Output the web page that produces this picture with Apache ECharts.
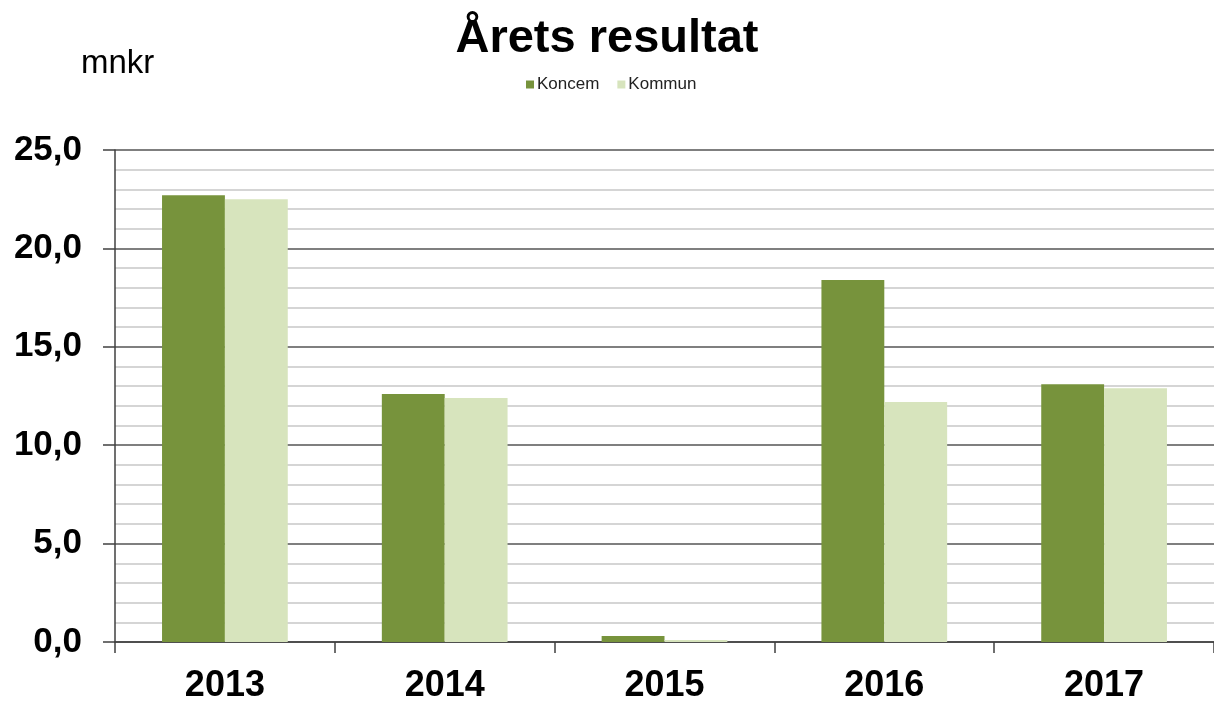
<!DOCTYPE html>
<html>
<head>
<meta charset="utf-8">
<script src="https://cdn.jsdelivr.net/npm/echarts@6/dist/echarts.min.js"></script>
<style>
  html, body { margin: 0; padding: 0; background: #fff; }
  #chart { width: 1214px; height: 705px; }
</style>
</head>
<body>
<div id="chart"></div>
<script>
// data
var years = ['2013', '2014', '2015', '2016', '2017']
var koncem = [22.7, 12.6, 0.3, 18.4, 13.1]
var kommun = [22.5, 12.4, 0.1, 12.2, 12.9]

var chart = echarts.init(document.getElementById('chart'))

var option = {
  animation: false,
  textStyle: { fontFamily: 'Liberation Sans, Arial, sans-serif' },
  title: [{
    text: 'Årets resultat',
    left: 'center',
    top: 11,
    textStyle: { fontSize: 47, fontWeight: 'bold', color: '#000' }
  }, {
    text: 'mnkr',
    left: 76,
    top: 42,
    textStyle: { fontSize: 33, fontWeight: 'normal', color: '#000' }
  }],
  legend: {
    top: 71,
    left: 521,
    itemWidth: 8,
    itemHeight: 8,
    itemGap: 18,
    icon: 'rect',
    textStyle: { fontSize: 17, color: '#222', padding: [0, 0, 0, -2] },
    data: ['Koncem', 'Kommun']
  },
  grid: {
    left: 115,
    right: -1,
    top: 150,
    bottom: 63,
    containLabel: false
  },
  xAxis: {
    type: 'category',
    data: years,
    axisLine: { lineStyle: { color: '#404040', width: 1.5 } },
    axisTick: { show: true, length: 11, alignWithLabel: false, lineStyle: { color: '#404040', width: 1.5 } },
    axisLabel: { fontSize: 36, fontWeight: 'bold', color: '#000', margin: 26 }
  },
  yAxis: {
    type: 'value',
    min: 0,
    max: 25,
    interval: 5,
    axisLine: { show: true, lineStyle: { color: '#404040', width: 1.5 } },
    axisTick: { show: true, length: 12, lineStyle: { color: '#404040', width: 1.5 } },
    axisLabel: {
      fontSize: 35,
      fontWeight: 'bold',
      color: '#000',
      margin: 33,
      formatter: function (v) { return v.toFixed(1).replace('.', ',') }
    },
    splitLine: { show: true, lineStyle: { color: '#555', width: 1.5 } },
    minorTick: { show: false, splitNumber: 5 },
    minorSplitLine: { show: true, lineStyle: { color: '#c8c8c8', width: 1.5 } }
  },
  series: [{
    name: 'Koncem',
    type: 'bar',
    data: koncem,
    barWidth: '28.6%',
    barGap: '0%',
    itemStyle: { color: '#77933c' }
  }, {
    name: 'Kommun',
    type: 'bar',
    data: kommun,
    barWidth: '28.6%',
    itemStyle: { color: '#d7e4bd' }
  }]
}

chart.setOption(option)
</script>
</body>
</html>
